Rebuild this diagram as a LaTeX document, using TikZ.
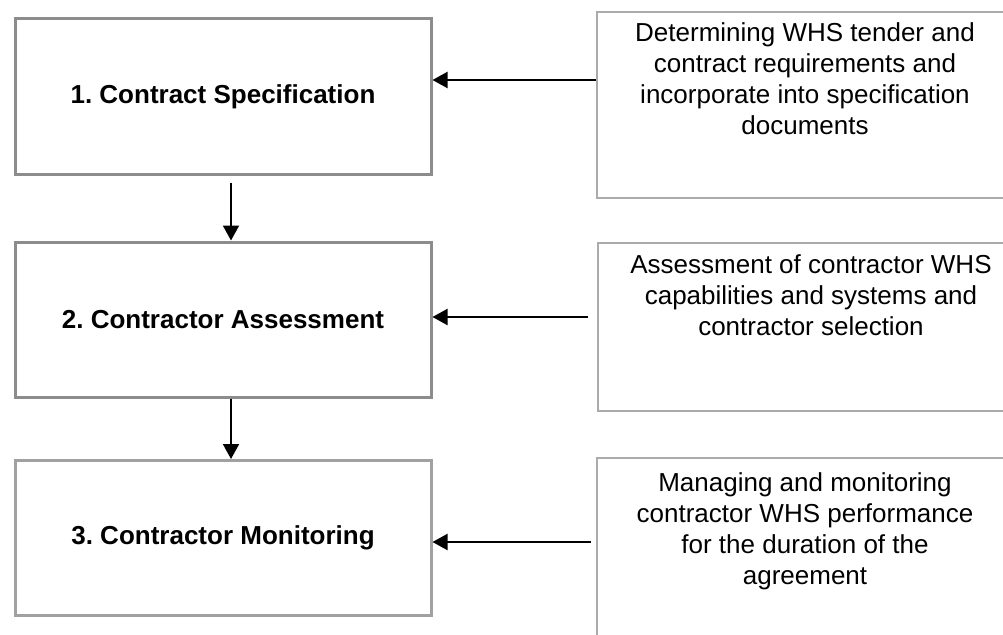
\documentclass[tikz,border=0pt]{standalone}
\usepackage{fontspec}
\setmainfont{Liberation Sans}
\frenchspacing
\usetikzlibrary{arrows.meta}
\begin{document}
\begin{tikzpicture}[x=1pt,y=-1pt,
	stage/.style={draw=black!45,line width=3pt,minimum width=416pt,minimum height=155pt,inner sep=0pt,font=\fontsize{26}{31}\selectfont\bfseries},
	note/.style={draw=black!33,line width=1.6pt,inner sep=0pt},
	notetext/.style={anchor=north,align=center,inner sep=0pt,font=\fontsize{26}{31}\selectfont},
	flow/.style={line width=2pt,-{Triangle[length=15pt,width=16pt]}}]
		\useasboundingbox(0,0)rectangle(1003,634);
		\node[stage](spec)at(223,96.5){1. Contract Specification};
		\node[stage](assess)at(223,319.5){2. Contractor Assessment};
		\node[stage,draw=black!37](monitor)at(223,538){3. Contractor Monitoring};
		\node[note,minimum width=417pt,minimum height=186pt](req)at(805.5,105){};
		\node[note,minimum width=417pt,minimum height=168pt](cap)at(806.5,327){};
		\node[note,minimum width=417pt,minimum height=242pt](perf)at(805.5,579){};
		\node[notetext](reqtext)at(805,22){Determining WHS tender and\\contract requirements and\\incorporate into specification\\documents};
		\node[notetext](captext)at(811,254){Assessment of contractor WHS\\capabilities and systems and\\contractor selection};
		\node[notetext](perftext)at(805,472){Managing and monitoring\\contractor WHS performance\\for the duration of the\\agreement};
		\coordinate(in1)at([yshift=16.5pt]spec.east);
		\coordinate(in2)at([yshift=2.5pt]assess.east);
		\coordinate(in3)at([yshift=-4pt]monitor.east);
		\draw[flow](in1-|req.west)--(in1);
		\draw[flow]([xshift=-9pt]in2-|cap.west)--(in2);
		\draw[flow]([xshift=-5pt]in3-|perf.west)--(in3);
		\draw[flow,shorten <=7pt]([xshift=8pt]spec.south)--([xshift=8pt]assess.north);
		\draw[flow]([xshift=8pt]assess.south)--([xshift=8pt]monitor.north);
	\end{tikzpicture}
\end{document}
